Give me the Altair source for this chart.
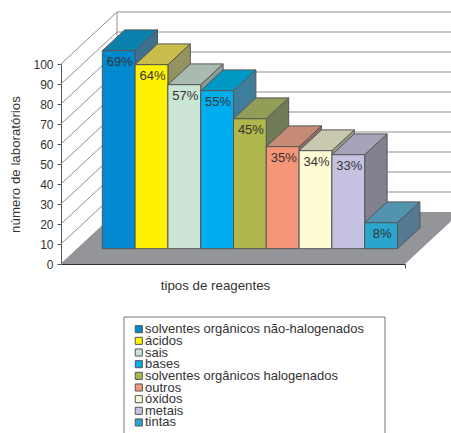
import altair as alt
import pandas as pd

# Reagent types, share of laboratories and laboratory counts
reagents = ["solventes orgânicos não-halogenados", "ácidos", "sais", "bases",
            "solventes orgânicos halogenados", "outros", "óxidos", "metais", "tintas"]
percent = ["69%", "64%", "57%", "55%", "45%", "35%", "34%", "33%", "8%"]
labs = [99, 92, 82, 79, 65, 51, 49, 47, 13]

# Face colours of each column
front_colors = ["#0089CF", "#FFF200", "#CBE5D3", "#00AEEF", "#AEB64C",
                "#F69679", "#FFFBD5", "#C6C3E2", "#29A5CE"]
top_colors = ["#0A82AD", "#C8BC4A", "#A9BBAF", "#0098C4", "#929D58",
              "#C58B74", "#C9C9B0", "#A5A3BA", "#5293AF"]
side_colors = ["#3F6F8F", "#949260", "#8B9A91", "#3E7D9B", "#707B58",
               "#8C6E62", "#999988", "#82818F", "#557990"]

ticks = list(range(0, 101, 10))

# Oblique projection, in axis units (both axes are drawn at 2 px per unit)
FLOOR_W = 172
WALL_DX, WALL_DY = 28, 26
BAR_W = 16.4
BAR_X0 = 20.65
BAR_Y0 = 7.65
BAR_DX, BAR_DY = 11.2, 10.4

# Key block below the plot, in the same units; its lower edge runs off the page
KEY_LEFT, KEY_RIGHT = 31.5, 162
KEY_TOP, KEY_BOTTOM = -26.5, -90
KEY_FIRST_ROW = -32.6
KEY_ROW_STEP = 5.83
KEY_SWATCH_X = 38.9
KEY_TEXT_X = 42

LINE = "#555555"
GRID = "#8f8f8f"
FONT = "Liberation Sans"
TEXT = "#333333"

x_scale = alt.Scale(domain=[0, FLOOR_W], nice=False)
y_scale = alt.Scale(domain=[0, 100], nice=False)
fill_scale = alt.Scale(domain=reagents, range=front_colors)

# Every layer shares the same axis definitions
x_axis = alt.Axis(values=[FLOOR_W], labels=False, grid=False, domainColor="#333333",
                  tickColor=LINE, tickSize=4, titleFont=FONT, titleFontSize=13.3,
                  titleFontWeight="normal", titleColor=TEXT, titleX=154, titleY=14)
y_axis = alt.Axis(values=ticks, grid=False, domainColor=LINE, tickColor=LINE, tickSize=4,
                  labelFont=FONT, labelFontSize=12, labelColor=TEXT, labelPadding=4,
                  titleFont=FONT, titleFontSize=13.3, titleFontWeight="normal",
                  titleColor=TEXT, titleX=-39)


def X(field="x"):
    return alt.X(field, type="quantitative", scale=x_scale, axis=x_axis, title="tipos de reagentes")


def Y(field="y"):
    return alt.Y(field, type="quantitative", scale=y_scale, axis=y_axis, title="número de laboratórios")


# One table per kind of face
fronts, tops, sides = [], [], []
for i, (name, v) in enumerate(zip(reagents, labs)):
    x0 = BAR_X0 + i * BAR_W
    x1 = x0 + BAR_W
    y0 = BAR_Y0
    y1 = BAR_Y0 + v
    fronts.append(dict(name=name, x=x0, x2=x1, y=y0, y2=y1, cx=(x0 + x1) / 2 + 0.5, label=percent[i]))
    tops += [dict(name=name, c=top_colors[i], x=x0, x2=x1, y=y1),
             dict(name=name, c=top_colors[i], x=x0 + BAR_DX, x2=x1 + BAR_DX, y=y1 + BAR_DY)]
    sides += [dict(name=name, c=side_colors[i], x=x1, y=y0, y2=y1),
              dict(name=name, c=side_colors[i], x=x1 + BAR_DX, y=y0 + BAR_DY, y2=y1 + BAR_DY)]

fronts = pd.DataFrame(fronts)
tops = pd.DataFrame(tops)
sides = pd.DataFrame(sides)
key_rows = pd.DataFrame({
    "name": reagents,
    "y": [KEY_FIRST_ROW - i * KEY_ROW_STEP for i in range(len(reagents))],
    "sx": KEY_SWATCH_X,
    "tx": KEY_TEXT_X,
})

# Back wall and side wall grid
diagonals = pd.DataFrame(
    [dict(t=t, x=0, y=t) for t in ticks] + [dict(t=t, x=WALL_DX, y=t + WALL_DY) for t in ticks]
)
back_lines = pd.DataFrame(
    [dict(x=WALL_DX, x2=FLOOR_W + WALL_DX, y=t + WALL_DY) for t in ticks if t > 0]
)
back_edge = pd.DataFrame([dict(x=WALL_DX, y=WALL_DY, y2=100 + WALL_DY)])
floor = pd.DataFrame([dict(x=0, x2=FLOOR_W, y=0),
                      dict(x=WALL_DX, x2=FLOOR_W + WALL_DX, y=WALL_DY)])
key_box = pd.DataFrame([dict(x=KEY_LEFT, x2=KEY_RIGHT, y=KEY_TOP, y2=KEY_BOTTOM)])

diag_layer = alt.Chart(diagonals).mark_line(color=GRID, strokeWidth=1).encode(
    x=X(), y=Y(), detail="t:N")
back_layer = alt.Chart(back_lines).mark_rule(color=GRID, strokeWidth=1).encode(
    x=X(), x2="x2:Q", y=Y())
back_edge_layer = alt.Chart(back_edge).mark_rule(color=GRID, strokeWidth=1).encode(
    x=X(), y=Y(), y2="y2:Q")
floor_layer = alt.Chart(floor).mark_area(orient="horizontal", color="#939598").encode(
    x=X(), x2="x2:Q", y=Y())

side_layer = alt.Chart(sides).mark_area(stroke=LINE, strokeWidth=1).encode(
    x=X(), y=Y(), y2="y2:Q", detail="name:N", color=alt.Color("c:N", scale=None))
top_layer = alt.Chart(tops).mark_area(orient="horizontal", stroke=LINE, strokeWidth=1).encode(
    x=X(), x2="x2:Q", y=Y(), detail="name:N", color=alt.Color("c:N", scale=None))
front_layer = alt.Chart(fronts).mark_rect(stroke=LINE, strokeWidth=1).encode(
    x=X(), x2="x2:Q", y=Y(), y2="y2:Q",
    fill=alt.Fill("name:N", scale=fill_scale, legend=None))
label_layer = alt.Chart(fronts).mark_text(font=FONT, fontSize=13, color=TEXT, dy=11).encode(
    x=X("cx"), y=Y("y2"), text="label:N")

# Key: a white block with one swatch and one label per reagent
box_layer = alt.Chart(key_box).mark_rect(fill="white", stroke="#777777", strokeWidth=1).encode(
    x=X(), x2="x2:Q", y=Y(), y2="y2:Q")
swatch_layer = alt.Chart(key_rows).mark_square(size=50, stroke=LINE, strokeWidth=1, opacity=1).encode(
    x=X("sx"), y=Y(), fill=alt.Fill("name:N", scale=fill_scale, legend=None))
key_text_layer = alt.Chart(key_rows).mark_text(
    font=FONT, fontSize=13, color=TEXT, align="left", baseline="middle"
).encode(x=X("tx"), y=Y(), text="name:N")

chart = alt.layer(
    diag_layer, back_layer, back_edge_layer, floor_layer,
    side_layer, top_layer, front_layer, label_layer,
    box_layer, swatch_layer, key_text_layer,
).properties(
    width=344, height=200,
    padding={"left": 61, "top": 64, "right": 46, "bottom": 169},
    autosize=alt.AutoSizeParams(type="none"),
    background="white",
).configure_view(stroke=None)

chart.save("out.html", embed_options={"renderer": "svg", "actions": False})
